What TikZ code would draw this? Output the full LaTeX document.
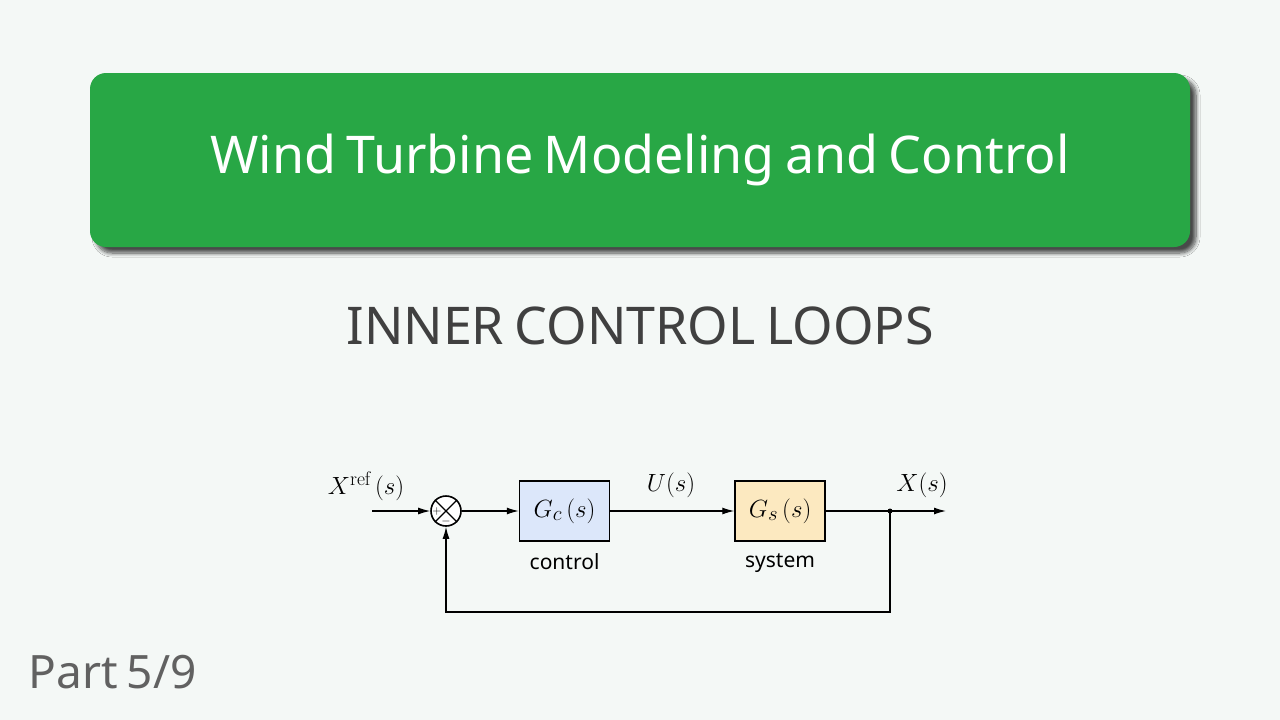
\documentclass[tikz,border=0pt]{standalone}
\usepackage{fontspec}
\usepackage{amsmath}
\setsansfont{Noto Sans}
\usetikzlibrary{arrows.meta,positioning,shadows.blur}
\definecolor{slideBg}{HTML}{F4F8F6}
\definecolor{slideGreen}{HTML}{28A745}
\definecolor{slideInk}{HTML}{404040}
\definecolor{slideGrey}{HTML}{616161}
\definecolor{ctrlBg}{HTML}{DCE7FA}
\definecolor{sysBg}{HTML}{FCE9C0}
\newcommand\tightwords{\spaceskip=0.2em\relax}
\tikzset{
  titlebox/.style={rectangle,fill=slideGreen,rounded corners=16pt,
    minimum width=1100pt,minimum height=174pt,text=white,
    font=\sffamily\fontsize{52}{62}\selectfont\tightwords,
    blur shadow={shadow xshift=6pt,shadow yshift=-6pt,shadow blur steps=8,
      shadow blur radius=4pt,shadow opacity=70}},
  subtitle/.style={text=slideInk,font=\sffamily\fontsize{52}{62}\selectfont\tightwords},
  partlabel/.style={text=slideGrey,font=\sffamily\fontsize{46}{56}\selectfont\tightwords},
  tfblock/.style={rectangle,draw=black,line width=1.5pt,
    minimum width=90pt,minimum height=60pt,font=\fontsize{28}{32}\selectfont},
  sumnode/.style={circle,draw=black,fill=white,line width=1.6pt,minimum size=30pt,inner sep=0pt},
  signmark/.style={font=\fontsize{13}{14}\selectfont,inner sep=0pt},
  sig/.style={font=\fontsize{28}{32}\selectfont},
  blocktag/.style={font=\sffamily\fontsize{21}{25}\selectfont},
  arrow/.style={-{Latex[length=12pt,width=7pt]},line width=1.2pt}
}
\begin{document}
\begin{tikzpicture}[x=1pt,y=-1pt]
  \fill[slideBg] (0,0) rectangle (1280,720);
  \useasboundingbox (0,0) rectangle (1280,720);
  % header
  \node[titlebox] (title) at (640,160) {Wind Turbine Modeling and Control};
  \node[subtitle] (sub) at (640,326) {INNER CONTROL LOOPS};
  \node[partlabel, anchor=west] (part) at (25,672) {Part 5/9};
  % loop
  \node[sumnode] (sum) at (446,511) {};
  \draw[line width=1.2pt] (sum.north west) -- (sum.south east);
  \draw[line width=1.2pt] (sum.north east) -- (sum.south west);
  \node[signmark] (plus) at (437,511) {$+$};
  \node[signmark] (minus) at (446,521) {$-$};
  \node[tfblock, fill=ctrlBg, right=57pt of sum] (gc) {$G_c\left(s\right)$};
  \node[tfblock, fill=sysBg, right=124pt of gc] (gs) {$G_s\left(s\right)$};
  \node[blocktag, below=8pt of gc] (ctrltag) {control};
  \node[blocktag, below=8pt of gs] (systag) {system};
  \coordinate (in) at (372,511);
  \coordinate (branch) at (890,511);
  \coordinate (out) at (946,511);
  \coordinate (fbcorner) at (890,612);
  \node[sig] (xref) at (366,486) {$X^{\mathrm{ref}}\left(s\right)$};
  \node[sig] (ulab) at (671,485) {$U(s)$};
  \node[sig] (xlab) at (922,485) {$X(s)$};
  \draw[arrow] (in) -- (sum.west);
  \draw[arrow] (sum) -- (gc);
  \draw[arrow] (gc) -- (gs);
  \draw[arrow] (gs) -- (out);
  \draw[arrow] (branch) -- (fbcorner) -| (sum.south);
  \fill (branch) circle (2.5pt);
\end{tikzpicture}
\end{document}
